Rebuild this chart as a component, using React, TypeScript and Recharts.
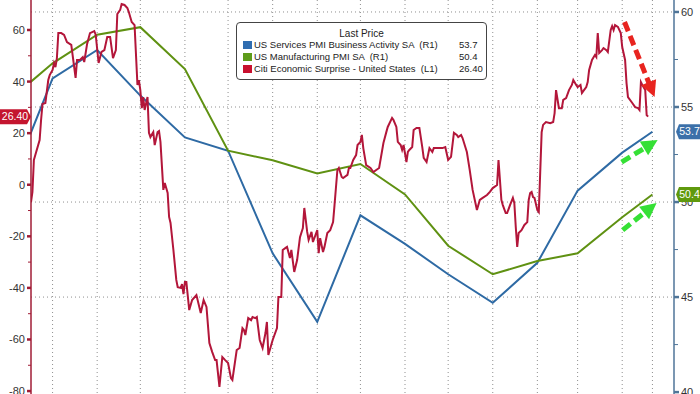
import React from 'react';
import { ComposedChart, Line, XAxis, YAxis, CartesianGrid, ReferenceLine, ReferenceDot } from 'recharts';

// ---------- data ----------
const BASE = Date.UTC(2022, 1, 13); // x = days since 2022-02-13
const dayOf = (s: string) =>
  (Date.UTC(+s.slice(0, 4), +s.slice(5, 7) - 1, +s.slice(8, 10)) - BASE) / 86400000;

const pmiDates = [
  '2022-01-31', '2022-02-28', '2022-03-31', '2022-04-30', '2022-05-31', '2022-06-30',
  '2022-07-31', '2022-08-31', '2022-09-30', '2022-10-31', '2022-11-30', '2022-12-31',
  '2023-01-31', '2023-02-28', '2023-03-31', '2023-04-21',
];
const servicesPmi = [51.2, 56.5, 58.0, 55.6, 53.4, 52.7, 47.3, 43.7, 49.3, 47.8, 46.2, 44.7, 46.8, 50.6, 52.6, 53.7];
const manufacturingPmi = [55.5, 57.3, 58.8, 59.2, 57.0, 52.7, 52.2, 51.5, 52.0, 50.4, 47.7, 46.2, 46.9, 47.3, 49.2, 50.4];

const gridDates = [
  '2022-02-28', '2022-03-31', '2022-04-30', '2022-05-31', '2022-06-30', '2022-07-31',
  '2022-08-31', '2022-09-30', '2022-10-31', '2022-11-30', '2022-12-31', '2023-01-31',
  '2023-02-28', '2023-03-31', '2023-04-21',
];

// Citi Economic Surprise Index (days since 2022-02-13)
const citiDays = [0,1,2,3,6,7,8,10,12,13,15,16,17,18,19,21,23,25,28,31,32,34,36,37,39,41,44,45,47,49,51,53,55,57,59,60,62,63,65,67,68,70,72,74,75,76,77,78,79,81,82,83,85,86,88,89,90,92,93,95,96,97,99,101,102,104,105,106,107,108,110,112,115,118,120,122,124,126,128,129,131,133,135,137,139,140,143,145,147,148,149,151,153,154,156,157,159,161,163,164,165,168,171,172,174,175,177,178,180,181,183,185,187,189,190,192,193,195,196,199,200,201,203,204,206,208,210,211,213,214,216,217,220,221,222,224,226,227,229,230,231,233,236,238,240,242,245,247,248,251,252,254,255,257,258,259,261,262,263,265,266,268,270,272,273,275,277,279,280,283,286,288,290,292,294,296,297,299,300,303,305,307,310,312,314,317,319,321,324,325,327,328,330,331,333,335,336,337,338,339,341,343,345,346,347,348,349,350,352,353,355,356,358,361,363,364,365,367,369,370,372,374,376,377,379,380,382,383,386,387,388,390,392,393,394,395,397,398,400,401,403,404,405,406,408,410,411,413,414,415,418,420,422,423,424,425,427,428,429];
const citiValues = [-6.7,-2.8,9.6,11.5,17.3,25.1,31.3,31.7,40.6,42.5,44.5,47.2,45.6,49.1,58.8,58.8,58.1,55.3,54.2,41.4,48.4,48.4,49.5,47.6,54.6,58.8,59.6,58.1,47.2,51.5,52.2,57.3,57.3,49.1,52.2,66.2,67.8,70.1,69.7,68.5,67.0,63.1,61.9,38.7,40.6,36.7,29.7,34.0,29.0,34.0,20.1,18.5,20.4,15.4,20.4,20.8,16.6,-2.0,0.7,-3.2,-12.5,-14.8,-25.3,-36.9,-39.7,-40.0,-38.5,-42.4,-37.7,-37.7,-48.6,-44.7,-42.8,-49.7,-44.7,-47.4,-61.4,-64.9,-68.0,-68.0,-78.4,-66.8,-68.0,-69.1,-75.0,-75.7,-64.1,-63.3,-55.6,-56.3,-58.3,-51.7,-52.5,-51.3,-51.7,-51.3,-60.2,-63.3,-57.5,-53.2,-66.0,-60.2,-55.6,-43.5,-43.5,-25.3,-24.5,-24.1,-28.4,-25.3,-33.8,-29.2,-20.3,-16.8,-9.0,-18.3,-21.4,-18.3,-22.2,-17.6,-26.5,-20.7,-26.1,-24.1,-18.7,-17.6,-14.5,-7.9,5.7,6.5,3.0,2.6,3.8,6.5,6.5,9.6,11.5,15.4,16.6,19.3,14.2,7.6,6.5,4.9,5.7,6.5,16.2,20.4,22.4,25.9,25.1,22.4,16.6,15.4,13.5,15.4,8.8,12.7,13.5,14.6,21.2,22.0,22.0,14.6,10.4,8.8,14.2,12.7,14.2,14.2,14.2,14.6,9.6,10.8,20.1,19.3,18.5,19.3,18.1,12.7,5.7,-2.0,-9.8,-5.9,-5.1,-4.0,-2.8,-1.3,-0.1,9.6,-5.9,-7.9,-11.0,-11.0,-7.9,-5.1,-7.1,-16.4,-24.1,-18.7,-17.6,-15.6,-14.5,-5.9,-3.2,-2.8,-4.8,-5.1,-9.8,-10.6,20.4,23.2,24.3,23.9,24.3,27.8,36.7,29.7,29.7,32.9,33.6,36.7,38.7,40.6,38.7,37.9,38.7,35.6,37.9,39.8,44.5,48.4,50.3,49.5,58.8,51.1,52.2,53.0,52.2,51.5,60.0,61.5,60.0,61.9,61.2,58.8,53.4,48.4,39.4,34.0,31.7,30.1,29.7,29.0,39.8,38.7,36.7,27.0,26.4];

const leftTicks = [-80, -70, -60, -50, -40, -30, -20, -10, 0, 10, 20, 30, 40, 50, 60];
const rightTicks = [40, 42.5, 45, 47.5, 50, 52.5, 55, 57.5, 60];
const rightGrid = [45, 50, 55, 60];

const legendItems = [
  { name: 'US Services PMI Business Activity SA  (R1)', value: '53.7', color: '#2f6db0' },
  { name: 'US Manufacturing PMI SA  (R1)', value: '50.4', color: '#5e9c1a' },
  { name: 'Citi Economic Surprise - United States  (L1)', value: '26.40', color: '#c8102e' },
];

// annotation arrows (x in days, y on left axis)
const redArrow = [{ x: 412.6, y: 63.1 }, { x: 433.5, y: 34.0 }];
const greenArrow1 = [{ x: 410.6, y: 8.8 }, { x: 435.6, y: 17.3 }];
const greenArrow2 = [{ x: 411.3, y: -17.6 }, { x: 434.9, y: -7.1 }];

// ---------- derived ----------
const toSeries = (xs: number[], vs: number[]) => xs.map((x, i) => ({ x, v: vs[i] }));
const pmiDays = pmiDates.map(dayOf);
const servicesData = toSeries(pmiDays, servicesPmi);
const manufacturingData = toSeries(pmiDays, manufacturingPmi);
const n = Math.min(citiDays.length, citiValues.length);
const citiData = toSeries(citiDays.slice(0, n), citiValues.slice(0, n));
const gridDays = gridDates.map(dayOf);
const X_DOMAIN: [number, number] = [0, 447];

const FONT = '"Liberation Sans", Arial, sans-serif';
const AXIS_LEFT = '#a01c36';
const AXIS_RIGHT = '#4f7598';
const BLUE = '#2e6aa4';
const GREEN = '#5f9112';
const RED = '#b3163a';

const LeftTick = (props: any) => {
  const { x, y, payload } = props;
  const v = payload.value;
  const major = v % 20 === 0;
  return (
    <g>
      <line x1={x - (major ? 4 : 3)} y1={y} x2={x} y2={y} stroke={AXIS_LEFT} strokeWidth={major ? 2.5 : 1} />
      {major && (
        <text x={x - 6} y={y} dy="0.36em" textAnchor="end" fontSize={11} fill="#333" fontFamily={FONT}>
          {v}
        </text>
      )}
    </g>
  );
};

const RightTick = (props: any) => {
  const { x, y, payload } = props;
  const v = payload.value;
  const major = v % 5 === 0;
  return (
    <g>
      <line x1={x} y1={y} x2={x + (major ? 5 : 4)} y2={y} stroke={AXIS_RIGHT} strokeWidth={major ? 2.5 : 1} />
      {major && (
        <text x={x + 7} y={y} dy="0.36em" textAnchor="start" fontSize={11} fill="#333" fontFamily={FONT}>
          {v}
        </text>
      )}
    </g>
  );
};

const LeftTag = ({ cx, cy, text, color }: any) => (
  <g>
    <path d={`M${cx - 31},${cy - 7.5} L${cx - 4},${cy - 7.5} L${cx},${cy} L${cx - 4},${cy + 7.5} L${cx - 31},${cy + 7.5} Z`} fill={color} />
    <text x={cx - 16} y={cy} dy="0.36em" textAnchor="middle" fontSize={10.5} fill="#fff" fontFamily={FONT}>{text}</text>
  </g>
);

const RightTag = ({ cx, cy, text, color }: any) => (
  <g>
    <path d={`M${cx + 2},${cy} L${cx + 5},${cy - 7.5} L${cx + 27},${cy - 7.5} L${cx + 27},${cy + 7.5} L${cx + 5},${cy + 7.5} Z`} fill={color} />
    <text x={cx + 15.5} y={cy} dy="0.36em" textAnchor="middle" fontSize={10.5} fill="#fff" fontFamily={FONT}>{text}</text>
  </g>
);

const makeArrow = (color: string) => (props: any) => {
  const { x1, y1, x2, y2 } = props;
  const dx = x2 - x1;
  const dy = y2 - y1;
  const len = Math.hypot(dx, dy) || 1;
  const ux = dx / len;
  const uy = dy / len;
  const head = 16;
  const half = 8;
  const bx = x2 - ux * head;
  const by = y2 - uy * head;
  return (
    <g>
      <line x1={x1} y1={y1} x2={bx + ux * 2} y2={by + uy * 2} stroke={color} strokeWidth={5} strokeDasharray="10 5" />
      <polygon points={`${x2},${y2} ${bx - uy * half},${by + ux * half} ${bx + uy * half},${by - ux * half}`} fill={color} />
    </g>
  );
};

export default function App() {
  const citiLast = citiValues[n - 1];
  const servLast = servicesPmi[servicesPmi.length - 1];
  const manLast = manufacturingPmi[manufacturingPmi.length - 1];
  return (
    <div style={{ position: 'absolute', left: 0, top: 0, width: 700, height: 394, background: '#fff', overflow: 'hidden' }}>
      <ComposedChart width={700} height={394} margin={{ top: 0, right: 0, bottom: 0, left: 0 }}>
        <XAxis xAxisId={0} type="number" dataKey="x" domain={X_DOMAIN} allowDataOverflow hide />
        <YAxis
          yAxisId="left"
          orientation="left"
          width={31}
          type="number"
          domain={[-81.14, 71.63]}
          allowDataOverflow
          ticks={leftTicks}
          interval={0}
          tickSize={0}
          tickMargin={0}
          tickLine={false}
          axisLine={{ stroke: AXIS_LEFT, strokeWidth: 1.5 }}
          tick={(p: any) => <LeftTick {...p} />}
        />
        <YAxis
          yAxisId="right"
          orientation="right"
          width={26}
          type="number"
          domain={[39.9, 60.63]}
          allowDataOverflow
          ticks={rightTicks}
          interval={0}
          tickSize={0}
          tickMargin={0}
          tickLine={false}
          axisLine={{ stroke: AXIS_RIGHT, strokeWidth: 1.5 }}
          tick={(p: any) => <RightTick {...p} />}
        />
        <CartesianGrid
          xAxisId={0}
          yAxisId="right"
          horizontalValues={rightGrid}
          verticalValues={gridDays}
          stroke="#8f8f8f"
          strokeDasharray="1 3"
        />
        <Line yAxisId="right" data={servicesData} dataKey="v" type="linear" stroke={BLUE} strokeWidth={2} dot={false} isAnimationActive={false} />
        <Line yAxisId="right" data={manufacturingData} dataKey="v" type="linear" stroke={GREEN} strokeWidth={2} dot={false} isAnimationActive={false} />
        <Line yAxisId="left" data={citiData} dataKey="v" type="linear" stroke={RED} strokeWidth={2} dot={false} isAnimationActive={false} />
        <ReferenceLine yAxisId="left" segment={redArrow} ifOverflow="visible" shape={makeArrow('#e8241f')} />
        <ReferenceLine yAxisId="left" segment={greenArrow1} ifOverflow="visible" shape={makeArrow('#35e035')} />
        <ReferenceLine yAxisId="left" segment={greenArrow2} ifOverflow="visible" shape={makeArrow('#35e035')} />
        <ReferenceDot yAxisId="left" x={X_DOMAIN[0]} y={citiLast} ifOverflow="visible" zIndex={2000}
          shape={(p: any) => <LeftTag cx={p.cx} cy={p.cy} text={citiLast.toFixed(2)} color="#c4152f" />} />
        <ReferenceDot yAxisId="right" x={X_DOMAIN[1]} y={servLast} ifOverflow="visible" zIndex={2000}
          shape={(p: any) => <RightTag cx={p.cx} cy={p.cy} text={servLast.toFixed(1)} color="#3b70a9" />} />
        <ReferenceDot yAxisId="right" x={X_DOMAIN[1]} y={manLast} ifOverflow="visible" zIndex={2000}
          shape={(p: any) => <RightTag cx={p.cx} cy={p.cy} text={manLast.toFixed(1)} color="#5f990d" />} />
      </ComposedChart>
      <div
        style={{
          position: 'absolute', left: 236, top: 22, width: 249, height: 56,
          border: '1px solid #444', borderRadius: 4, background: '#fff',
          fontFamily: FONT, fontSize: 9.5, color: '#222',
        }}
      >
        <div style={{ position: 'absolute', left: 0, right: 0, top: 5, lineHeight: '12px', textAlign: 'center', fontSize: 10 }}>
          Last Price
        </div>
        {legendItems.map((it, i) => (
          <div key={it.name} style={{ position: 'absolute', left: 0, top: 16 + i * 12, height: 12, width: '100%' }}>
            <div style={{ position: 'absolute', left: 6, top: 2, width: 9, height: 8, background: it.color }} />
            <div style={{ position: 'absolute', left: 17, top: 0, lineHeight: '12px', whiteSpace: 'pre' }}>{it.name}</div>
            <div style={{ position: 'absolute', left: 222, top: 0, lineHeight: '12px' }}>{it.value}</div>
          </div>
        ))}
      </div>
    </div>
  );
}
